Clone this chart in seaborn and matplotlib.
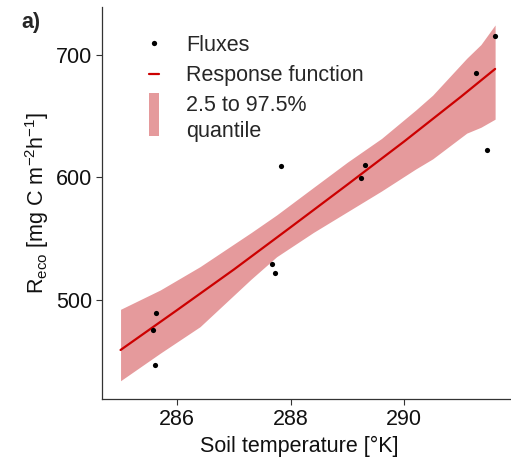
import numpy as np
import pandas as pd
import matplotlib
matplotlib.use('Agg')
import matplotlib.pyplot as plt
from matplotlib.patches import Rectangle
from matplotlib.lines import Line2D
from matplotlib.legend_handler import HandlerPatch
import seaborn as sns

#% data
# measured fluxes
soil_temp = [285.60, 285.57, 285.62, 287.67, 287.73, 287.82, 289.23, 289.30, 291.26, 291.45, 291.59]
reco = [446.9, 475.3, 489.1, 529.4, 522.3, 609.0, 599.5, 609.9, 685.6, 622.6, 715.5]

# fitted response function
fit_temp = [285.0, 286.0, 287.0, 288.0, 289.0, 290.0, 291.0, 291.6]
fit_reco = [459.2, 491.9, 525.0, 559.5, 594.3, 629.5, 666.0, 688.6]

# 2.5 and 97.5 % quantiles
band_temp = [285.0, 285.7, 286.4, 287.3, 287.75, 288.4, 289.0, 289.6, 290.2, 290.5, 291.1, 291.35, 291.6]
band_hi = [492.4, 508.2, 527.2, 555.0, 569.4, 591.9, 612.6, 631.9, 655.0, 667.2, 697.3, 708.5, 724.5]
band_lo = [434.1, 456.6, 478.2, 517.0, 535.3, 555.2, 572.1, 589.0, 606.9, 615.2, 636.2, 641.0, 647.6]

x_ticks = [286, 288, 290]
y_ticks = [500, 600, 700]

flux_df = pd.DataFrame({"T": soil_temp, "R": reco})
fit_df = pd.DataFrame({"T": fit_temp, "R": fit_reco})

line_col = '#CC0000'
band_col = '#E59A9C'
FS = 15.5

sns.set_style('ticks')
plt.rcParams['font.family'] = ['Liberation Sans', 'DejaVu Sans']
plt.rcParams['mathtext.fontset'] = 'custom'
plt.rcParams['mathtext.rm'] = 'Liberation Sans'
plt.rcParams['mathtext.default'] = 'regular'

W, H = 511, 461
fig, ax = plt.subplots(figsize=(W / 100, H / 100), dpi=100)
fig.subplots_adjust(left=101.7 / W, right=1.0, bottom=1 - 399 / H, top=1 - 6.7 / H)

ax.fill_between(band_temp, band_lo, band_hi, color=band_col, linewidth=0, zorder=1)
sns.lineplot(data=fit_df, x="T", y="R", color=line_col, linewidth=1.6, ax=ax, zorder=2)
sns.scatterplot(data=flux_df, x="T", y="R", color='black', s=14, linewidth=0, ax=ax, zorder=3)

ax.set_xlim(284.668, 291.88)
ax.set_ylim(419.2, 739.4)
ax.set_xticks(x_ticks)
ax.set_yticks(y_ticks)
ax.tick_params(axis='both', which='both', direction='out', length=4, width=0.8,
               color='#333333', labelsize=FS, labelcolor='#111111', pad=3)

for s in ['top', 'right']:
    ax.spines[s].set_visible(False)
for s in ['left', 'bottom']:
    ax.spines[s].set_linewidth(0.9)
    ax.spines[s].set_color('#333333')

ax.set_xlabel('Soil temperature [°K]', fontsize=FS, color='#111111')
ax.set_ylabel(r'R$_{eco}$ [mg C m$^{-2}$h$^{-1}$]', fontsize=FS, color='#111111')
ax.xaxis.set_label_coords((299.7 - 101.7) / (W - 101.7), -0.095)
ax.yaxis.set_label_coords(-0.124, 0.5)

fig.text(21.7 / W, 1 - 22.5 / H, 'a)', fontsize=FS, fontweight='bold', va='center', ha='left')


def tall_patch(legend, orig_handle, xdescent, ydescent, width, height, fontsize):
    hh = 2.0 * fontsize
    return Rectangle((-xdescent, -ydescent + height / 2 - hh / 2 + 0.19 * fontsize), width, hh)


handles = [Line2D([], [], ls='none', marker='o', color='black', markersize=3.8, markeredgewidth=0),
           Line2D([], [], color=line_col, linewidth=1.6),
           Rectangle((0, 0), 1, 1, facecolor=band_col, edgecolor='none')]
labels = ['Fluxes', 'Response function', '2.5 to 97.5%\nquantile']
leg = ax.legend(handles, labels, handler_map={Rectangle: HandlerPatch(patch_func=tall_patch)},
                loc='upper left', bbox_to_anchor=(149.3 / W, 1 - 35 / H), bbox_transform=fig.transFigure,
                frameon=False, borderpad=0, borderaxespad=0, handlelength=0.47, handletextpad=1.24,
                labelspacing=0.42, fontsize=FS)
for t in leg.get_texts():
    t.set_linespacing(1.28)

fig.savefig('out.png', dpi=100)
